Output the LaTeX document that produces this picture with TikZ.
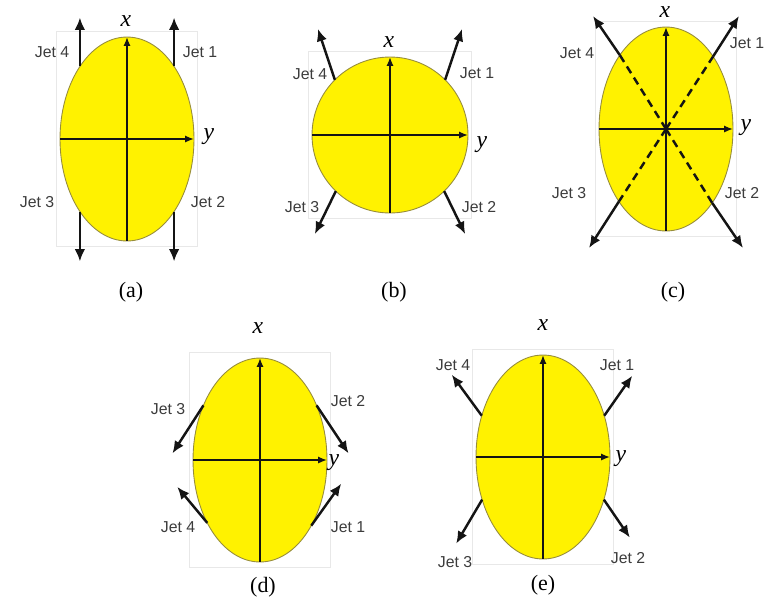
\documentclass[tikz,border=0pt]{standalone}
\usepackage{fontspec}
\setmainfont{Liberation Serif}
\setsansfont{Liberation Sans}
\usetikzlibrary{shapes.geometric, arrows.meta, calc, fit}
\definecolor{rim}{RGB}{150,140,60}
\definecolor{jetgray}{RGB}{60,60,60}
\definecolor{ink}{RGB}{20,20,20}

\begin{document}
\begin{tikzpicture}[x=0.02cm, y=-0.02cm]

    \tikzset{
        body/.style={ellipse, draw=rim, line width=0.5pt, fill=yellow, inner sep=0pt, outer sep=0pt, minimum width=2.68cm, minimum height=4.08cm},
        ball/.style={body, minimum width=3.12cm, minimum height=3.12cm},
        frame/.style={draw=black!9, line width=0.3pt, inner xsep=2pt, inner ysep=3pt},
        axis/.style={-{Latex[length=5pt,width=4pt]}, line width=0.9pt, draw=ink},
        jet/.style={-{Latex[length=7pt,width=6pt]}, line width=1.4pt, draw=ink},
        core/.style={dash pattern=on 4.5pt off 3pt, line width=1.4pt, draw=ink},
        jetlabel/.style={font=\sffamily\fontsize{9}{10}\selectfont, text=jetgray, inner sep=0pt},
        axlabel/.style={font=\fontsize{13.5}{15}\selectfont\itshape, inner sep=0pt},
        caption/.style={font=\fontsize{12.5}{14}\selectfont, inner sep=0pt}
    }

    \useasboundingbox (0,0) rectangle (767,603);

    % (a) jets parallel to x
    \node[body] (ea) at (127,139) {};
    \node[frame, fit=(ea)] (fa) {};
    \draw[axis] (ea.south) -- (ea.north);
    \draw[axis] (ea.west) -- (ea.east);
    \node[axlabel] (xa) at (126,21) {x};
    \node[axlabel] (ya) at (209,137) {y};

    \coordinate (a1) at ($(ea.57)+(0,-49)$);
    \coordinate (a2) at ($(ea.303)+(0,50)$);
    \coordinate (a3) at ($(ea.237)+(0,50)$);
    \coordinate (a4) at ($(ea.123)+(0,-49)$);
    \draw[jet] (ea.57) -- (a1);
    \draw[jet] (ea.303) -- (a2);
    \draw[jet] (ea.237) -- (a3);
    \draw[jet] (ea.123) -- (a4);

    \node[jetlabel] (la1) at (200,52) {Jet 1};
    \node[jetlabel] (la2) at (208,202) {Jet 2};
    \node[jetlabel] (la3) at (37,202) {Jet 3};
    \node[jetlabel] (la4) at (52,52) {Jet 4};
    \node[caption] (ca) at (131,292) {(a)};

    % (b) round body, jets tilted outwards
    \node[ball] (eb) at (390,135) {};
    \node[frame, fit=(eb)] (fb) {};
    \draw[axis] (eb.south) -- (eb.north);
    \draw[axis] (eb.west) -- (eb.east);
    \node[axlabel] (xb) at (389,42) {x};
    \node[axlabel] (yb) at (482,145) {y};

    \coordinate (b1) at ($(eb.45)+(17,-51)$);
    \coordinate (b2) at ($(eb.314)+(21,43)$);
    \coordinate (b3) at ($(eb.226)+(-21,43)$);
    \coordinate (b4) at ($(eb.135)+(-17,-51)$);
    \draw[jet] (eb.45) -- (b1);
    \draw[jet] (eb.314) -- (b2);
    \draw[jet] (eb.226) -- (b3);
    \draw[jet] (eb.135) -- (b4);

    \node[jetlabel] (lb1) at (477,73) {Jet 1};
    \node[jetlabel] (lb2) at (479,207) {Jet 2};
    \node[jetlabel] (lb3) at (302,207) {Jet 3};
    \node[jetlabel] (lb4) at (310,74) {Jet 4};
    \node[caption] (cb) at (394,292) {(b)};

    % (c) jets through the centre
    \node[body] (ec) at (666,129) {};
    \node[frame, fit=(ec)] (fc) {};
    \draw[axis] (ec.south) -- (ec.north);
    \draw[axis] (ec.west) -- (ec.east);
    \node[axlabel] (xc) at (665,12) {x};
    \node[axlabel] (yc) at (746,128) {y};

    \draw[core] (ec.center) -- (ec.57.1);
    \draw[core] (ec.center) -- (ec.302.9);
    \draw[core] (ec.center) -- (ec.237.1);
    \draw[core] (ec.center) -- (ec.122.9);

    \coordinate (c1) at ($(ec.center)+(73,-113)$);
    \coordinate (c2) at ($(ec.center)+(77,119)$);
    \coordinate (c3) at ($(ec.center)+(-77,119)$);
    \coordinate (c4) at ($(ec.center)+(-73,-113)$);
    \draw[jet] (ec.57.1) -- (c1);
    \draw[jet] (ec.302.9) -- (c2);
    \draw[jet] (ec.237.1) -- (c3);
    \draw[jet] (ec.122.9) -- (c4);

    \node[jetlabel] (lc1) at (747,43) {Jet 1};
    \node[jetlabel] (lc2) at (742,193) {Jet 2};
    \node[jetlabel] (lc3) at (569,193) {Jet 3};
    \node[jetlabel] (lc4) at (577,53) {Jet 4};
    \node[caption] (cc) at (673,292) {(c)};

    % (d) jets pointing towards the y axis
    \node[body] (ed) at (260,460) {};
    \node[frame, fit=(ed)] (fd) {};
    \draw[axis] (ed.south) -- (ed.north);
    \draw[axis] (ed.west) -- (ed.east);
    \node[axlabel] (xd) at (258,328) {x};
    \node[axlabel] (yd) at (334,463) {y};

    \coordinate (d1) at ($(ed.308)+(30,-42)$);
    \coordinate (d2) at ($(ed.44)+(32,48)$);
    \coordinate (d3) at ($(ed.136)+(-31,48)$);
    \coordinate (d4) at ($(ed.230)+(-30,-36)$);
    \draw[jet] (ed.308) -- (d1);
    \draw[jet] (ed.44) -- (d2);
    \draw[jet] (ed.136) -- (d3);
    \draw[jet] (ed.230) -- (d4);

    \node[jetlabel] (ld1) at (348,527) {Jet 1};
    \node[jetlabel] (ld2) at (348,401) {Jet 2};
    \node[jetlabel] (ld3) at (168,409) {Jet 3};
    \node[jetlabel] (ld4) at (178,527) {Jet 4};
    \node[caption] (cd) at (263,587) {(d)};

    % (e) jets pointing away from the y axis
    \node[body] (ee) at (543,457) {};
    \node[frame, fit=(ee)] (fe) {};
    \draw[axis] (ee.south) -- (ee.north);
    \draw[axis] (ee.west) -- (ee.east);
    \node[axlabel] (xe) at (543,325) {x};
    \node[axlabel] (ye) at (621,459) {y};

    \coordinate (e1) at ($(ee.34)+(28,-40)$);
    \coordinate (e2) at ($(ee.325)+(26,38)$);
    \coordinate (e3) at ($(ee.215)+(-26,44)$);
    \coordinate (e4) at ($(ee.146)+(-30,-41)$);
    \draw[jet] (ee.34) -- (e1);
    \draw[jet] (ee.325) -- (e2);
    \draw[jet] (ee.215) -- (e3);
    \draw[jet] (ee.146) -- (e4);

    \node[jetlabel] (le1) at (617,365) {Jet 1};
    \node[jetlabel] (le2) at (628,558) {Jet 2};
    \node[jetlabel] (le3) at (455,562) {Jet 3};
    \node[jetlabel] (le4) at (453,365) {Jet 4};
    \node[caption] (ce) at (543,585) {(e)};

\end{tikzpicture}
\end{document}
